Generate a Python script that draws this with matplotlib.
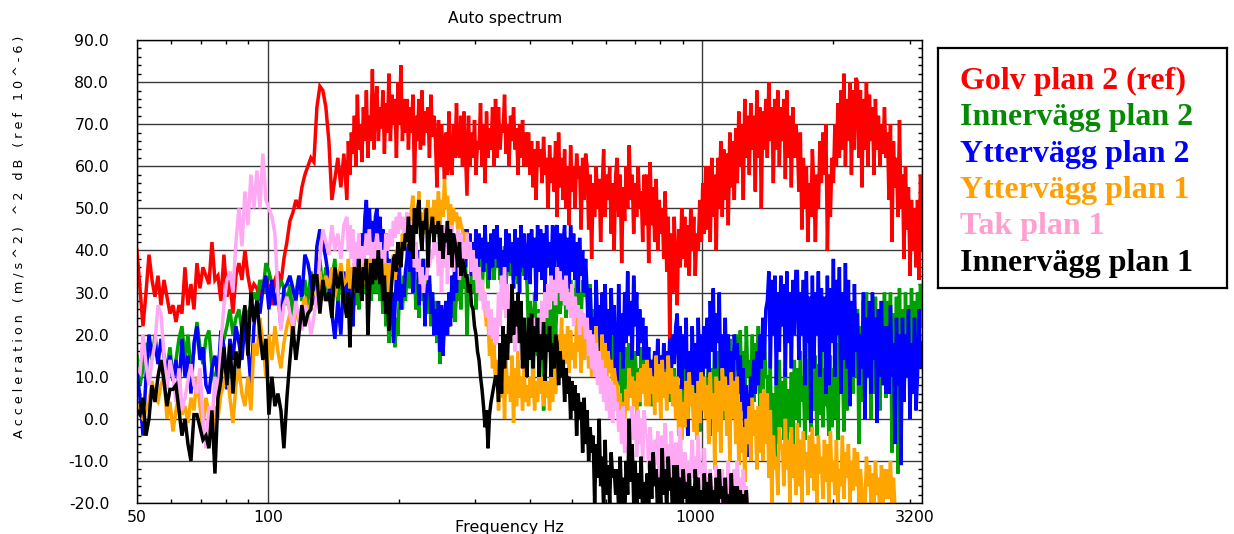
#!/usr/bin/env python3
"""Auto spectrum of floor, wall and ceiling accelerometers (plan 1 and plan 2)."""
import numpy as np
import matplotlib
matplotlib.use("Agg")
import matplotlib.pyplot as plt
from matplotlib.ticker import FixedLocator, NullFormatter, FormatStrFormatter, MultipleLocator

OUT_PNG = "out.png"

# analyser frequency axis: coarse log bins up to ~150 Hz, finer bins above
FREQ = np.concatenate([np.geomspace(50, 149.6, 70), np.geomspace(152, 3200, 384)])

# levels in dB re 1e-6 (m/s^2)^2, one value per bin
GOLV_P2 = [
    40, 31, 22, 30, 39, 33, 29, 34, 27, 33,
    29, 25, 27, 23, 27, 25, 36, 27, 32, 26,
    37, 31, 36, 34, 32, 42, 33, 34, 28, 39,
    29, 33, 25, 34, 37, 33, 40, 34, 30, 32,
    31, 28, 33, 30, 32, 27, 33, 35, 32, 38,
    42, 47, 49, 52, 50, 55, 58, 60, 62, 61,
    74, 79, 78, 74, 66, 52, 57, 62, 55, 63,
    52, 66, 58, 68, 63, 72, 60, 77, 64, 70, 61, 74, 66, 78, 62, 72, 66, 83, 64, 74,
    79, 66, 74, 69, 78, 63, 75, 68, 82, 66, 77, 70, 76, 62, 80, 70, 84, 66, 76, 68,
    76, 64, 74, 68, 77, 56, 72, 66, 76, 64, 78, 65, 73, 68, 74, 62, 77, 67, 72, 66,
    55, 71, 60, 70, 64, 57, 68, 58, 73, 60, 58, 70, 62, 75, 64, 62, 72, 60, 73, 63,
    53, 72, 60, 68, 62, 71, 58, 66, 64, 75, 60, 70, 56, 73, 62, 69, 64, 74, 60, 76,
    62, 74, 64, 70, 68, 77, 63, 70, 60, 72, 66, 74, 64, 69, 58, 70, 62, 71, 60, 68,
    60, 68, 58, 66, 55, 64, 52, 66, 60, 64, 56, 67, 58, 62, 50, 65, 56, 62, 54, 66,
    48, 68, 55, 62, 52, 64, 50, 60, 46, 65, 54, 60, 50, 63, 57, 60, 45, 62, 52, 63,
    60, 45, 58, 38, 56, 48, 60, 50, 57, 42, 55, 64, 48, 58, 52, 60, 44, 56, 40, 58,
    62, 48, 58, 37, 55, 47, 60, 50, 65, 52, 58, 44, 56, 48, 60, 50, 54, 42, 58, 46,
    58, 37, 61, 46, 55, 42, 57, 40, 52, 44, 50, 38, 54, 35, 48, 19, 44, 30, 48, 36,
    27, 45, 36, 50, 38, 48, 36, 46, 34, 50, 40, 48, 34, 44, 40, 52, 42, 56, 44, 60,
    45, 60, 42, 62, 48, 58, 40, 62, 50, 66, 48, 64, 52, 63, 46, 68, 55, 66, 52, 69,
    56, 73, 60, 70, 52, 76, 62, 72, 58, 75, 64, 72, 54, 78, 62, 74, 50, 73, 64, 76,
    62, 80, 66, 74, 56, 76, 64, 78, 60, 74, 66, 76, 57, 78, 62, 72, 55, 74, 62, 70,
    66, 54, 68, 45, 62, 50, 60, 42, 56, 48, 64, 55, 42, 58, 50, 66, 56, 68, 58, 70,
    40, 58, 48, 62, 56, 70, 60, 75, 62, 78, 64, 82, 60, 76, 66, 80, 58, 78, 64, 81,
    80, 62, 78, 55, 76, 64, 80, 60, 77, 66, 74, 58, 76, 64, 72, 60, 70, 63, 74, 62,
    68, 52, 70, 42, 66, 55, 62, 48, 71, 50, 58, 38, 60, 45, 55, 34, 52, 40, 50, 36,
    52, 33, 58, 40,
]

INNERVAGG_P2 = [
    15, 8, 12, 18, 16, 14, 20, 14, 13, 10,
    12, 17, 9, 14, 19, 22, 14, 20, 11, 16,
    23, 17, 13, 19, 21, 12, 8, 14, 16, 19,
    22, 26, 20, 24, 26, 21, 23, 25, 27, 30,
    28, 33, 30, 37, 35, 32, 28, 30, 33, 31,
    27, 32, 24, 30, 34, 28, 33, 27, 35, 31,
    34, 38, 30, 36, 28, 33, 38, 27, 35, 31,
    28, 34, 25, 31, 22, 32, 27, 34, 26, 35, 29, 33, 30, 37, 27, 35, 28, 36, 30, 33,
    30, 36, 28, 34, 25, 33, 22, 30, 18, 28, 22, 26, 17, 24, 20, 30, 31, 26, 34, 28,
    34, 40, 31, 37, 30, 36, 26, 33, 24, 35, 28, 38, 30, 36, 25, 32, 22, 30, 20, 28,
    18, 24, 13, 22, 16, 25, 20, 28, 22, 30, 24, 32, 23, 30, 28, 35, 26, 36, 31, 38,
    20, 32, 28, 35, 30, 38, 26, 33, 36, 40, 30, 37, 35, 42, 31, 38, 37, 40, 33, 39,
    36, 40, 33, 38, 35, 41, 32, 38, 36, 34, 39, 33, 37, 40, 32, 38, 35, 39, 34, 37,
    32, 20, 28, 24, 5, 30, 22, 15, 26, 20, 28, 2, 24, 18, 30, 22, 26, 16, 28, 20,
    28, 34, 25, 32, 27, 35, 24, 30, 26, 33, 28, 31, 25, 34, 27, 30, 24, 33, 29, 32,
    30, 22, 32, 18, 26, 16, 28, 20, 24, 14, 27, 18, 25, 15, 22, 17, 24, 12, 20, 16,
    16, 8, 18, 4, 12, 3, 17, 9, 18, 10, 14, 5, 16, 8, 12, 3, 17, 6, 15, 9,
    17, 6, 14, 3, 12, 7, 15, 4, 10, 6, 13, 5, 16, 8, 11, 4, 14, 6, 12, 5,
    10, 2, 8, -2, 12, 4, 14, -4, 9, 5, 11, 0, 13, 2, 8, -3, 12, 3, 10, 1,
    8, 15, -4, 12, 6, 18, 2, 16, 10, 20, 4, 14, 0, 17, 8, 19, 3, 15, 9, 20,
    18, 8, 21, 5, 16, 2, 22, 10, 14, 6, 20, 4, 18, 9, 22, 3, 16, 7, 19, 10,
    10, -4, 12, -8, 6, -11, 8, -6, 14, -2, 9, -5, 12, -9, 7, -3, 11, -7, 14, 0,
    12, -2, 16, 4, 10, -5, 14, 0, 18, -3, 11, 2, 15, -4, 13, 1, 17, -2, 12, 3,
    6, -4, 15, -2, 12, 0, 18, -5, 20, 8, 14, -3, 19, 2, 16, 4, 22, 6, 24, 10,
    26, -6, 22, 4, 28, 8, 30, 10, 24, 0, 27, 6, 29, 12, 25, 2, 28, 8, 30, 5,
    28, 6, 30, -8, 25, 2, 29, -13, 31, 10, 26, 4, 30, 12, 27, 8, 31, 14, 28, 16,
    30, 18, 32, 22,
]

YTTERVAGG_P2 = [
    11, 5, -4, 10, 20, 15, 18, 13, 19, 15,
    11, 15, 9, 14, 7, 19, 10, 15, 6, 18,
    22, 14, 17, 8, 6, 12, 15, 10, 21, 17,
    7, 19, 14, 22, 18, 14, 23, 17, 8, 22,
    28, 25, 31, 34, 26, 33, 27, 30, 22, 31,
    32, 34, 31, 28, 34, 29, 39, 37, 33, 27,
    41, 45, 42, 38, 33, 25, 19, 28, 20, 35,
    28, 36, 24, 34, 22, 33, 30, 38, 34, 40, 44, 38, 48, 52, 42, 50, 42, 47, 40, 48,
    50, 44, 48, 41, 45, 38, 44, 36, 38, 25, 30, 18, 26, 34, 28, 36, 26, 32, 29, 35,
    38, 44, 35, 42, 30, 38, 35, 40, 27, 36, 33, 38, 22, 32, 30, 34, 25, 30, 20, 26,
    20, 28, 16, 27, 15, 24, 28, 20, 30, 22, 34, 28, 39, 30, 42, 33, 44, 35, 45, 36,
    45, 38, 44, 34, 42, 36, 45, 33, 44, 38, 43, 35, 46, 37, 42, 33, 44, 36, 45, 38,
    46, 36, 43, 32, 40, 30, 45, 35, 44, 37, 42, 31, 45, 34, 43, 30, 46, 36, 44, 33,
    38, 44, 32, 45, 36, 43, 28, 46, 35, 45, 33, 44, 30, 46, 36, 42, 34, 46, 31, 45,
    46, 36, 44, 30, 42, 46, 34, 43, 31, 46, 35, 44, 33, 42, 30, 43, 34, 40, 30, 38,
    30, 14, 31, 20, 24, 15, 33, 22, 27, 11, 30, 18, 32, 16, 26, 13, 31, 20, 27, 12,
    9, 32, 16, 25, 12, 30, 18, 35, 20, 28, 14, 34, 22, 30, 15, 26, 18, 24, 14, 22,
    12, 17, 6, 14, 10, 16, 8, 19, 11, 15, 7, 18, 12, 16, 9, 19, 11, 20, 13, 22,
    25, 10, 22, 7, 20, 12, 24, -4, 16, 6, 22, 8, 18, 2, 24, 10, 20, 8, 22, 12,
    24, 10, 28, 16, 31, 12, 25, 18, 30, 8, 20, 12, 24, 6, 20, 3, 16, 8, 20, 14,
    18, 6, 15, 2, 12, -4, 8, -9, 2, 10, 4, 14, 6, 16, 8, 20, 12, 24, 14, 26,
    28, 35, 12, 33, 20, 34, 8, 30, 16, 34, 22, 32, 10, 35, 18, 30, 12, 33, 20, 35,
    35, 14, 30, 20, 33, 8, 35, 18, 29, -1, 34, 12, 30, 20, 35, 10, 31, 16, 29, 6,
    34, 8, 31, 18, 38, 10, 33, 20, 36, 6, 30, 14, 37, 12, 33, 3, 28, 10, 32, 16,
    25, 8, 20, 12, 30, 0, 24, 10, 28, 6, 30, 14, 24, -1, 26, 10, 28, 8, 22, 6,
    22, 6, 27, 10, 18, -6, 24, 8, 20, -11, 24, 4, 20, 10, 26, 0, 18, 6, 24, 2,
    10, 26, 12, 18,
]

YTTERVAGG_P1 = [
    3, 1, 0, 2, 4, 9, 5, 4, 8, 10,
    0, 4, -3, 2, 6, 1, 3, -1, 5, 2,
    10, 3, -2, 5, 1, -4, 3, 0, 6, 8,
    12, 5, -1, 8, 12, 6, 3, 10, 2, 18,
    15, 24, 18, 10, 20, 14, 22, 16, 12, 18,
    22, 25, 19, 27, 23, 26, 29, 24, 28, 30,
    30, 35, 28, 34, 31, 36, 29, 33, 37, 32,
    33, 38, 31, 36, 30, 37, 34, 36, 33, 40, 35, 38, 32, 37, 34, 38, 35, 40, 36, 39,
    36, 40, 35, 38, 34, 39, 32, 37, 30, 37, 34, 39, 33, 40, 36, 41, 38, 44, 40, 42,
    42, 48, 44, 50, 53, 46, 50, 47, 54, 45, 49, 44, 50, 48, 52, 45, 50, 47, 52, 46,
    49, 54, 46, 52, 48, 57, 50, 53, 47, 51, 45, 50, 47, 49, 44, 48, 46, 45, 42, 44,
    44, 38, 42, 36, 40, 34, 38, 32, 35, 30, 33, 28, 26, 22, 24, 15, 20, 12, 18, 8,
    14, 2, 16, 5, 12, 0, 14, 6, 10, 4, 15, -1, 12, 3, 16, 5, 10, 2, 12, 4,
    8, 3, 10, 5, 12, 2, 9, 4, 11, 6, 10, 3, 12, 5, 9, 2, 11, 4, 12, 6,
    12, 20, 15, 24, 10, 20, 13, 22, 11, 21, 14, 18, 12, 24, 16, 20, 11, 22, 14, 21,
    23, 12, 21, 10, 19, 14, 22, 9, 16, 10, 20, 12, 18, 10, 16, 11, 14, 8, 12, 9,
    8, 0, 6, -3, 4, -1, 7, 2, 12, 5, 10, 3, 9, 1, 11, 4, 12, 6, 13, 3,
    14, 3, 12, 6, 10, 1, 15, 4, 13, 0, 14, 5, 11, 2, 15, 6, 12, 3, 10, 0,
    10, -4, 7, -5, 4, -2, 9, 0, 11, 3, 8, -3, 6, -5, 9, -1, 11, 2, 10, 0,
    8, -6, 11, 0, 6, -12, 10, -3, 9, -8, 12, 2, 10, -4, 8, -10, 11, 0, 9, -6,
    10, -11, 4, -8, -2, -15, 0, -6, 3, -10, 5, -4, 2, -12, 3, -8, 6, -10, 7, -6,
    6, -14, 2, -20, -4, -12, -9, -18, -2, -7, -6, -16, 0, -12, -5, -20, -2, -14, -6, -18,
    -1, -16, -5, -20, -3, -12, -8, -18, -4, -14, -2, -17, -6, -20, -4, -13, -9, -19, -5, -15,
    -6, -20, -3, -15, -10, -18, -5, -20, -12, -16, -4, -19, -8, -14, -6, -20, -10, -17, -7, -16,
    -8, -20, -12, -17, -24, -22, -9, -16, -11, -20, -13, -22, -10, -18, -14, -24, -11, -20, -12, -19,
    -12, -19, -10, -22, -14, -21, -26,
]

TAK_P1 = [
    12, 11, 20, 13, 8, 14, 18, 27, 25, 15,
    7, 14, 10, 4, 12, 2, 5, 9, 13, 8,
    6, 12, 0, -7, 3, -2, 10, 4, 18, 27,
    33, 35, 30, 42, 50, 41, 54, 46, 58, 50,
    59, 50, 63, 52, 50, 48, 44, 30, 21, 27,
    29, 25, 22, 28, 24, 21, 27, 25, 20, 24,
    30, 38, 45, 42, 39, 46, 40, 44, 38, 46,
    48, 40, 46, 38, 45, 36, 42, 38, 44, 35, 41, 37, 40, 44, 39, 45, 38, 42, 37, 41,
    44, 38, 42, 34, 40, 37, 44, 40, 42, 45, 41, 47, 43, 48, 44, 49, 45, 48, 44, 46,
    49, 45, 47, 40, 44, 36, 42, 35, 38, 32, 36, 30, 34, 33, 37, 36, 40, 38, 42, 39,
    42, 34, 44, 30, 46, 36, 45, 32, 44, 40, 46, 35, 43, 38, 45, 33, 44, 37, 42, 38,
    44, 38, 42, 35, 40, 33, 38, 30, 36, 28, 33, 26, 30, 24, 28, 20, 26, 19, 24, 18,
    18, 30, 22, 34, 26, 36, 24, 32, 20, 30, 22, 27, 16, 26, 18, 24, 14, 22, 16, 20,
    20, 14, 22, 16, 24, 17, 22, 18, 25, 20, 28, 22, 30, 24, 32, 26, 34, 28, 33, 27,
    36, 30, 35, 28, 33, 27, 34, 26, 30, 24, 32, 22, 29, 24, 27, 20, 26, 22, 25, 19,
    24, 15, 21, 12, 20, 10, 18, 8, 16, 6, 14, 4, 12, 2, 10, 0, 9, -1, 8, 2,
    4, -3, 2, -6, 3, -8, 0, -4, -10, -2, 3, -5, 1, -9, 2, -6, 0, -10, 2, -4,
    -4, -12, -2, -9, -14, -5, -11, -3, -15, -8, -4, -12, -1, -10, -6, -14, -3, -9, -13, -6,
    -6, -15, -2, -12, -18, -8, -16, -10, -20, -12, -5, -14, -9, -17, -4, -13, -11, -19, -7, -15,
    -14, -22, -12, -19, -16, -24, -11, -18, -13, -20, -12, -21, -15, -19, -10, -22, -14, -18, -12, -20,
    -10, -18, -14, -22, -12, -20, -16, -25,
]

INNERVAGG_P1 = [
    2, 1, 5, -4, 0, 8, 4, 10, 14, 9,
    3, 7, 7, 8, 2, -4, 0, -6, -10, 1,
    1, -2, -5, -4, -7, 2, -13, 5, 9, 17,
    8, 18, 6, 16, 12, 22, 27, 15, 30, 23,
    28, 20, 14, 19, 1, 10, 3, 6, 2, -7,
    5, 14, 22, 14, 20, 27, 22, 25, 26, 34,
    34, 25, 33, 28, 30, 24, 36, 31, 35, 28,
    24, 30, 17, 28, 30, 36, 35, 30, 38, 32, 28, 36, 33, 38, 20, 30, 37, 32, 38, 33,
    35, 40, 32, 38, 28, 34, 25, 30, 21, 28, 33, 38, 39, 35, 42, 38, 36, 42, 40, 44,
    42, 48, 40, 46, 38, 50, 44, 49, 52, 44, 40, 47, 45, 50, 36, 44, 45, 48, 42, 46,
    44, 47, 40, 46, 38, 44, 42, 47, 39, 45, 36, 44, 42, 39, 36, 42, 34, 38, 36, 34,
    34, 30, 32, 27, 26, 22, 20, 16, 14, 10, 7, 3, -2, 2, -7, 1, 4, 6, 8, 10,
    10, 4, 18, 6, 22, 12, 20, 14, 26, 18, 32, 20, 28, 22, 30, 18, 28, 12, 24, 15,
    10, 24, 14, 25, 12, 22, 16, 24, 10, 20, 14, 23, 9, 20, 16, 22, 10, 18, 12, 20,
    18, 8, 16, 10, 14, 4, 12, 6, 10, 0, 9, 2, 8, -4, 6, 0, 4, -8, 5, -6,
    2, -10, -2, -8, -4, -20, -6, -14, 0, -16, -9, -22, -5, -18, -11, -20, -8, -14, -12, -18,
    -12, -22, -9, -20, -14, -24, -10, -18, 0, -15, -6, -20, -10, -24, -13, -19, -9, -23, -15, -21,
    -13, -22, -10, -19, -8, -16, -12, -24, -14, -20, -7, -18, -12, -22, -9, -17, -14, -24, -11, -20,
    -11, -21, -14, -24, -12, -19, -15, -23, -13, -22, -16, -25, -12, -20, -14, -23, -17, -25, -13, -21,
    -15, -24, -13, -20, -17, -25, -14, -21, -12, -19, -16, -24, -14, -22, -18, -25, -13, -21, -16, -24,
    -16, -24, -17, -22, -18, -25, -17, -23, -26,
]

SERIES = [
    ("Golv plan 2 (ref)", GOLV_P2, "#ff0000", "#ff0000"),
    ("Innervägg plan 2", INNERVAGG_P2, "#00a000", "#068a06"),
    ("Yttervägg plan 2", YTTERVAGG_P2, "#0000ff", "#0000ff"),
    ("Yttervägg plan 1", YTTERVAGG_P1, "#ffa500", "#ffa000"),
    ("Tak plan 1", TAK_P1, "#ffa8f4", "#ff9fd0"),
    ("Innervägg plan 1", INNERVAGG_P1, "#000000", "#000000"),
]

X_MAJOR = [50, 100, 1000, 3200]
X_MINOR = [60, 70, 80, 90, 200, 300, 400, 500, 600, 700, 800, 900, 2000, 3000]
Y_LABEL = "A c c e l e r a t i o n   ( m / s ^ 2 )   ^ 2   d B   ( r e f   1 0 ^ - 6 )"

W, H = 1234, 534


def fx(px):
    return px / W


def fy(py):
    return 1 - py / H


def main():
    fig = plt.figure(figsize=(W / 100, H / 100), dpi=100, facecolor="white")
    ax = fig.add_axes([fx(137), fy(503), (922 - 137) / W, (503 - 40) / H])

    for name, vals, color, _ in SERIES:
        n = min(len(vals), len(FREQ))
        ax.plot(FREQ[:n], vals[:n], color=color, lw=2.5,
                solid_joinstyle="miter", zorder=3)

    ax.set_xscale("log")
    ax.set_xlim(50, 3200)
    ax.set_ylim(-20, 90)

    ax.xaxis.set_major_locator(FixedLocator(X_MAJOR))
    ax.xaxis.set_minor_locator(FixedLocator(X_MINOR))
    ax.xaxis.set_minor_formatter(NullFormatter())
    # the two upper frequency labels sit a little left of their ticks
    ax.set_xticklabels(["50", "100", "", ""])
    for f in X_MAJOR[2:]:
        ax.annotate(str(f), xy=(f, 0), xycoords=("data", "axes fraction"),
                    xytext=(-5, -5), textcoords="offset points",
                    ha="center", va="top", fontsize=11.3)
    ax.yaxis.set_major_locator(MultipleLocator(10))
    ax.yaxis.set_minor_locator(MultipleLocator(2))
    ax.yaxis.set_major_formatter(FormatStrFormatter("%.1f"))

    ax.tick_params(which="both", direction="in", top=True, right=True,
                   width=1.0, color="black")
    ax.tick_params(which="major", length=0)
    ax.tick_params(which="minor", length=3.2)
    ax.tick_params(axis="y", which="major", labelsize=11.3, pad=20)
    ax.tick_params(axis="x", which="major", labelsize=11.3, pad=5)

    ax.grid(True, which="major", color="#3a3a3a", lw=1.0, zorder=1)
    for s in ax.spines.values():
        s.set_linewidth(1.0)
        s.set_zorder(4)

    fig.text(fx(505), fy(19), "Auto spectrum", ha="center", va="center",
             fontsize=11.2)
    fig.text(fx(509), fy(520), "Frequency Hz", ha="center", va="top",
             fontsize=11.5)
    fig.text(fx(19), fy(237), Y_LABEL, rotation=90, ha="center",
             va="center", fontsize=9.2)

    # boxed legend on the right
    lax = fig.add_axes([fx(938), fy(288), (1227 - 938) / W, (288 - 48) / H])
    lax.set_xticks([])
    lax.set_yticks([])
    for s in lax.spines.values():
        s.set_linewidth(1.6)
    baselines = [89, 125.5, 162, 198, 234, 270.5]
    for (name, _, _, tcolor), base in zip(SERIES, baselines):
        fig.text(fx(960), fy(base), name, color=tcolor, fontsize=23,
                 fontweight="bold", family="Liberation Serif",
                 ha="left", va="baseline")

    fig.savefig(OUT_PNG, dpi=100, facecolor="white")
    print(f"Saved -> {OUT_PNG}")


if __name__ == "__main__":
    main()
